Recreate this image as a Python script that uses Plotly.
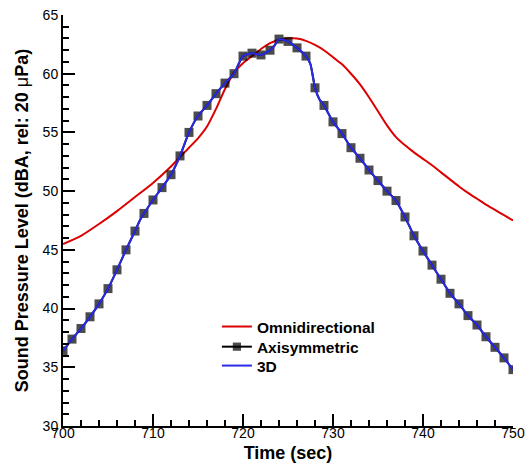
import plotly.graph_objects as go

# ---- data ----
omni_t = [700, 702, 704, 706, 708, 710, 712, 713, 714, 715, 716, 717, 718, 719, 720,
          721, 722, 723, 724, 725, 726, 727, 728, 729, 730, 731, 732, 733, 734, 735,
          736, 737, 738, 739, 740, 741, 742, 743, 744, 745, 746, 747, 748, 749, 750]
omni_spl = [45.5, 46.2, 47.2, 48.3, 49.5, 50.7, 52.1, 52.9, 53.7, 54.5, 55.5, 57.0, 58.7, 60.1, 60.9,
            61.5, 62.1, 62.6, 62.9, 63.0, 63.0, 62.8, 62.45, 62.0, 61.4, 60.8, 60.0, 59.1, 58.0, 56.8,
            55.6, 54.6, 53.9, 53.3, 52.75, 52.2, 51.6, 51.0, 50.4, 49.85, 49.35, 48.85, 48.4, 47.95, 47.5]

# simulation output times (markers of the axisymmetric run are drawn at whole seconds)
sim_t = [700, 701, 702, 703, 704, 705, 706, 707, 708, 708.6, 709, 710, 711, 712, 713, 714, 715,
         716, 717, 718, 719, 719.5, 720, 721, 722, 723, 723.5, 724, 725, 726, 727, 727.5, 728,
         728.5, 729, 730, 731, 732, 733, 734, 735, 736, 737, 738, 739, 740, 741, 742, 743, 744,
         745, 746, 747, 748, 749, 750]
axi_spl = [36.4, 37.4, 38.3, 39.3, 40.4, 41.7, 43.3, 45.0, 46.6, 47.6, 48.1, 49.25, 50.3, 51.4, 53.0, 55.0, 56.4,
           57.3, 58.3, 59.2, 60.0, 60.8, 61.5, 61.75, 61.6, 62.0, 62.4, 62.95, 62.75, 62.2, 61.5, 60.8, 58.8,
           57.8, 57.3, 55.9, 54.9, 53.7, 52.8, 51.8, 50.9, 50.0, 49.2, 47.8, 46.2, 44.9, 43.7, 42.5, 41.3, 40.4,
           39.4, 38.6, 37.6, 36.7, 35.8, 34.8]
d3_spl = [36.4, 37.4, 38.3, 39.3, 40.4, 41.7, 43.3, 45.0, 46.6, 47.6, 48.1, 49.25, 50.3, 51.4, 53.0, 55.0, 56.4,
          57.3, 58.3, 59.2, 60.0, 60.8, 61.5, 61.75, 61.6, 62.0, 62.4, 62.95, 62.75, 62.2, 61.5, 60.8, 58.8,
          57.8, 57.3, 55.9, 54.9, 53.7, 52.8, 51.8, 50.9, 50.0, 49.2, 47.8, 46.2, 44.9, 43.7, 42.5, 41.3, 40.4,
          39.4, 38.6, 37.6, 36.7, 35.8, 34.8]

x_ticks = [700, 710, 720, 730, 740, 750]
y_ticks = [30, 35, 40, 45, 50, 55, 60, 65]

FONT = "Liberation Sans, Arial, sans-serif"

axi_marker_size = [9 if float(t).is_integer() else 0 for t in sim_t]

fig = go.Figure()
fig.add_trace(go.Scatter(x=omni_t, y=omni_spl, mode="lines", name="Omnidirectional", legend="legend",
                         showlegend=True,
                         line=dict(color="#dc0000", width=2, shape="spline", smoothing=0.6)))
fig.add_trace(go.Scatter(x=sim_t, y=axi_spl, mode="lines+markers", name="Axisymmetric", legend="legend2",
                         showlegend=True,
                         line=dict(color="black", width=2, shape="spline", smoothing=0.5),
                         marker=dict(symbol="square", size=axi_marker_size, color="black", line=dict(width=0))))
fig.add_trace(go.Scatter(x=sim_t, y=d3_spl, mode="lines", name="3D", legend="legend3",
                         showlegend=True,
                         line=dict(color="#2a2ae8", width=2, shape="spline", smoothing=0.5)))

axis_common = dict(showgrid=False, zeroline=False, showline=True, linecolor="black", linewidth=2,
                   mirror=False, ticks="inside", ticklen=12, tickwidth=2, tickcolor="black",
                   tickfont=dict(family=FONT, size=14, color="black"), automargin=False,
                   ticklabeloverflow="allow")

fig.update_xaxes(range=[700, 750], tickvals=x_ticks, ticktext=[str(v) for v in x_ticks],
                 minor=dict(dtick=2, ticks="inside", ticklen=6, tickwidth=1.5, tickcolor="black"),
                 ticklabelstandoff=-7,
                 title=dict(text="Time (sec)", font=dict(family=FONT, size=18, color="black", weight="bold"),
                            standoff=7),
                 **axis_common)
fig.update_yaxes(range=[30, 65], tickvals=y_ticks, ticktext=[str(v) for v in y_ticks],
                 minor=dict(dtick=1, ticks="inside", ticklen=6, tickwidth=1.5, tickcolor="black"),
                 title=dict(text="Sound Pressure Level (dBA, rel: 20 <span style='font-weight:normal'>μ</span>Pa)",
                            font=dict(family=FONT, size=18, color="black", weight="bold"), standoff=9),
                 **axis_common)

leg_font = dict(family=FONT, size=15.5, color="black", weight="bold")
leg_common = dict(x=0.342, xanchor="left", yanchor="middle", bgcolor="rgba(0,0,0,0)",
                  font=leg_font, itemwidth=30)

fig.update_layout(width=531, height=464,
                  margin=dict(l=63, r=18, t=15, b=38),
                  showlegend=True,
                  paper_bgcolor="white", plot_bgcolor="white",
                  legend=dict(y=0.241, **leg_common),
                  legend2=dict(y=0.192, **leg_common),
                  legend3=dict(y=0.146, **leg_common))

fig.write_html("out.html", config={"displayModeBar": False},
               post_script="document.body.style.margin='0px';document.body.style.overflow='hidden';")
